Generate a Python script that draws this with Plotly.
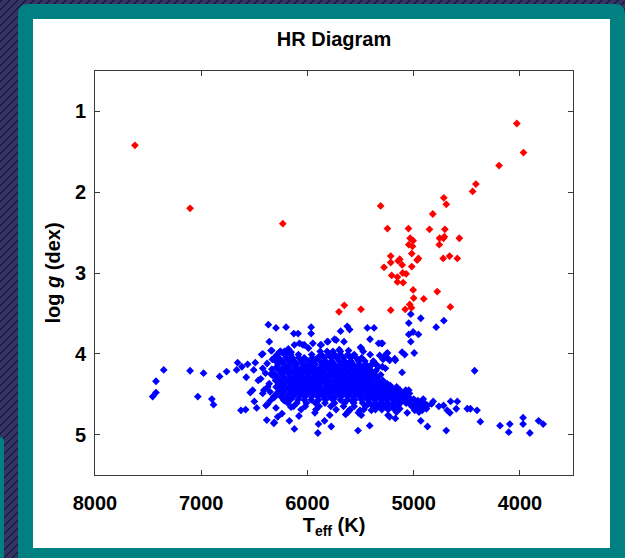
import plotly.graph_objects as go

# ---------------- data ----------------
red_teff = [7624, 7105, 6232, 5311, 5247, 5216, 5216, 5279, 5207, 5703, 5653, 5496, 5216,
            4029, 3966, 4196, 4414, 4445, 4716, 4693, 4820, 5049, 4851, 4706, 5033, 5005,
            5046, 5011, 4756, 4719, 4712, 4759, 4570, 5018, 5146, 5131, 5108, 4955, 4967,
            5018, 4722, 4662, 4589, 5103, 5071, 5153, 5153, 5099, 5005, 5000, 4778, 4905,
            5037, 5021, 5080, 4655]
red_logg = [1.42, 2.20, 2.39, 2.17, 2.45, 2.79, 2.87, 2.93, 3.03, 3.48, 3.40, 3.45, 3.46,
            1.15, 1.51, 1.67, 1.90, 1.99, 2.07, 2.15, 2.27, 2.45, 2.46, 2.46, 2.57, 2.60,
            2.65, 2.67, 2.57, 2.57, 2.55, 2.65, 2.57, 2.76, 2.85, 2.83, 2.90, 2.82, 2.84,
            2.92, 2.82, 2.79, 2.82, 3.00, 3.01, 3.05, 3.11, 3.12, 3.21, 3.31, 3.23, 3.32,
            3.39, 3.43, 3.45, 3.42]

# sparse (individually readable) dwarf stars
blue_teff = [5027, 4933, 4716, 4788, 5046, 5046, 5005, 4955, 5027, 5295, 5109, 5084, 4995,
             5247, 5266, 5288, 5226, 5172, 5295, 5109, 4426, 5131, 5046, 5052, 4816, 4832,
             4763, 4719, 4652, 4589, 4684, 4659, 4599, 4495, 4466, 4404, 4372, 4933, 4870,
             4693, 4187, 4095, 4105, 3970, 3970, 3906, 3824, 3781, 5226, 5172, 5061, 5131,
             5077, 5000, 4960, 4920, 4890, 4980, 4940, 4900, 4960, 4920, 4880, 5010, 4990,
             5040, 5020, 4870, 4950, 4910,
             7353, 7426, 7426, 7457, 7105, 6978, 7032, 6827, 6761, 6900, 6884, 6657, 6667,
             6617, 6576, 6563, 6506, 6491, 6463, 6516, 6538, 6500, 6582, 6626, 6478, 6421,
             6431, 6368, 6296, 6201, 6128, 6088, 5965, 5965, 6359, 6336, 6312, 6343, 6352,
             6317, 6296, 6390, 6383, 6317, 6280, 6170, 6123, 6217, 6154, 5896, 5839, 5776,
             5902, 5524, 5414, 5871, 5807, 5729, 5625, 5603, 5688, 5436, 5373, 5411, 5330,
             5304, 5493, 5367, 5330, 5462, 5257, 5500, 5581, 5505, 5603, 5398, 5323, 5222,
             6075, 6028, 6248, 6154,
             6264, 6217, 6123, 6043, 5949, 5877, 5814, 5745, 5656, 5500, 5613, 6343, 6421,
             5320, 5241, 5178, 5398, 5351, 5266, 6327, 6374, 6421, 6374, 6312, 6312, 5619,
             5493, 5241, 5162, 5335, 5304,
             6440, 6395, 6360, 6410, 6335, 6380, 6350, 5380, 5355, 5345, 5310, 5290, 5365,
             6240, 6080, 5930, 5790, 5640, 5520, 6330, 6180, 5990, 5700]
blue_logg = [3.51, 3.56, 3.59, 3.67, 3.62, 3.76, 3.73, 3.76, 3.85, 3.87, 3.98, 4.01, 3.99,
             3.99, 4.02, 4.07, 4.08, 4.08, 4.16, 4.23, 4.21, 4.45, 4.45, 4.53, 4.59, 4.62,
             4.65, 4.64, 4.59, 4.59, 4.70, 4.73, 4.68, 4.68, 4.68, 4.70, 4.84, 4.83, 4.90,
             4.95, 4.89, 4.87, 4.97, 4.79, 4.87, 4.98, 4.83, 4.87, 4.78, 4.80, 4.73, 4.68,
             4.60, 4.56, 4.58, 4.60, 4.62, 4.62, 4.64, 4.66, 4.68, 4.70, 4.68, 4.66, 4.70,
             4.62, 4.58, 4.64, 4.72, 4.56,
             4.20, 4.34, 4.48, 4.53, 4.21, 4.24, 4.53, 4.28, 4.22, 4.56, 4.63, 4.11, 4.20,
             4.16, 4.29, 4.13, 4.20, 4.11, 4.33, 4.45, 4.48, 4.59, 4.69, 4.70, 4.67, 4.18,
             4.01, 3.64, 3.68, 3.67, 3.75, 3.75, 3.67, 3.75, 3.85, 3.96, 4.05, 4.25, 4.47,
             4.53, 4.67, 4.64, 4.82, 4.86, 4.78, 4.83, 4.93, 4.58, 4.66, 4.87, 4.83, 4.90,
             4.98, 4.95, 4.89, 3.89, 3.85, 3.83, 3.66, 3.70, 3.72, 3.68, 3.68, 3.82, 3.87,
             3.87, 3.93, 4.11, 4.16, 4.22, 4.00, 4.39, 4.58, 4.70, 4.70, 4.70, 4.36, 4.39,
             3.87, 3.89, 3.98, 3.98,
             3.98, 3.97, 3.89, 3.89, 3.87, 3.89, 3.85, 3.82, 3.85, 3.92, 3.96, 3.96, 4.00,
             4.02, 4.06, 4.06, 4.14, 4.14, 4.18, 4.27, 4.41, 4.49, 4.62, 4.54, 4.85, 4.72,
             4.76, 4.76, 4.72, 4.34, 4.43,
             4.31, 4.24, 4.37, 4.45, 4.19, 4.12, 4.58, 4.09, 4.21, 4.29, 4.26, 4.33, 4.47,
             4.74, 4.77, 4.73, 4.76, 4.75, 4.73, 4.07, 3.94, 3.93, 3.95]

# the crowded main-sequence clump, estimated row by row (log g -> Teff values)
dense_logg = [3.97, 4.01, 4.05, 4.09, 4.13, 4.17, 4.21, 4.25, 4.29, 4.33, 4.37, 4.41,
              4.45, 4.49, 4.53, 4.57, 4.61, 4.65, 4.69]
dense_teff = [
    [6255, 6190, 5880, 5815, 5760, 5690, 5475],
    [6285, 6215, 6160, 6085, 5960, 5870, 5800, 5745, 5690, 5620, 5560, 5410],
    [6270, 6200, 6140, 6080, 6030, 5955, 5905, 5840, 5775, 5725, 5660, 5595, 5540, 5490],
    [6300, 6240, 6175, 6125, 6060, 5995, 5940, 5880, 5830, 5770, 5700, 5650, 5590, 5520, 5460],
    [6275, 6215, 6150, 6100, 6035, 5975, 5925, 5855, 5800, 5745, 5685, 5620, 5570, 5510, 5450, 5395],
    [6295, 6230, 6185, 6110, 6055, 6000, 5945, 5880, 5825, 5770, 5710, 5655, 5600, 5535, 5480, 5425],
    [6265, 6205, 6150, 6085, 6030, 5970, 5915, 5860, 5795, 5740, 5690, 5625, 5570, 5515, 5455, 5400],
    [6310, 6240, 6175, 6120, 6065, 6005, 5945, 5890, 5835, 5775, 5715, 5660, 5600, 5545, 5490, 5430, 5375],
    [6280, 6220, 6160, 6100, 6045, 5985, 5930, 5865, 5810, 5750, 5700, 5640, 5585, 5520, 5470, 5410],
    [6300, 6245, 6185, 6130, 6070, 6015, 5955, 5900, 5840, 5790, 5730, 5670, 5615, 5555, 5500, 5440, 5385, 5330],
    [6270, 6215, 6155, 6095, 6040, 5985, 5925, 5875, 5815, 5760, 5700, 5645, 5585, 5530, 5475, 5420, 5360, 5300, 5250],
    [6295, 6235, 6175, 6125, 6065, 6005, 5950, 5895, 5835, 5780, 5725, 5665, 5610, 5555, 5495, 5440, 5385, 5330, 5270, 5215, 5160],
    [6265, 6210, 6150, 6090, 6035, 5980, 5920, 5865, 5805, 5750, 5695, 5640, 5580, 5525, 5470, 5410, 5355, 5300, 5245, 5185, 5130, 5075],
    [6290, 6230, 6170, 6115, 6060, 6000, 5945, 5885, 5830, 5775, 5715, 5660, 5605, 5545, 5490, 5435, 5380, 5320, 5265, 5210, 5150, 5095, 5040],
    [6250, 6190, 6135, 6075, 6020, 5960, 5905, 5850, 5790, 5735, 5680, 5620, 5565, 5510, 5450, 5395, 5340, 5285, 5225, 5170, 5115, 5060],
    [6225, 6160, 6090, 6030, 5965, 5895, 5830, 5760, 5690, 5625, 5555, 5490, 5430, 5370, 5310, 5255, 5195, 5140, 5085, 5025],
    [6185, 6100, 6010, 5925, 5835, 5745, 5650, 5565, 5480, 5415, 5355, 5295, 5240, 5180, 5125, 5070],
    [6130, 6020, 5890, 5780, 5660, 5560, 5450, 5385, 5325, 5265, 5205, 5150],
    [6060, 5920, 5730, 5600, 5470, 5360, 5300, 5240, 5180],
]

x_ticks = [8000, 7000, 6000, 5000, 4000]
y_ticks = [1, 2, 3, 4, 5]

# ---------------- build figure ----------------
all_blue_teff = list(blue_teff)
all_blue_logg = list(blue_logg)
for g, row in zip(dense_logg, dense_teff):
    all_blue_teff += row
    all_blue_logg += [g] * len(row)

W, H = 625, 558
ML, MR, MT, MB = 95, 52, 71, 83
PW, PH = W - ML - MR, H - MT - MB


def px(X, Y):
    return (X - ML) / PW, 1 - (Y - MT) / PH


def pt(X, Y):
    a, b = px(X, Y)
    return f"{a:.5f},{b:.5f}"


def rounded_rect(x0, y0, x1, y1, r):
    return (f"M {pt(x0 + r, y0)} L {pt(x1 - r, y0)} Q {pt(x1, y0)} {pt(x1, y0 + r)} "
            f"L {pt(x1, y1 - r)} Q {pt(x1, y1)} {pt(x1 - r, y1)} "
            f"L {pt(x0 + r, y1)} Q {pt(x0, y1)} {pt(x0, y1 - r)} "
            f"L {pt(x0, y0 + r)} Q {pt(x0, y0)} {pt(x0 + r, y0)} Z")


# diagonal hatch of the dark background
segs = []
x0 = -600
while x0 < 640:
    segs.append(f"M {pt(x0, 570)} L {pt(x0 + 580, -10)}")
    x0 += 8
hatch_path = " ".join(segs)

shapes = [
    dict(type="path", xref="paper", yref="paper", path=hatch_path,
         line=dict(color="#0a0a1e", width=1), layer="below"),
    dict(type="path", xref="paper", yref="paper", path=rounded_rect(-20, 437, 4, 580, 5),
         fillcolor="#008080", line=dict(width=0), layer="below"),
    dict(type="path", xref="paper", yref="paper", path=rounded_rect(18, 4, 625, 580, 10),
         fillcolor="#008080", line=dict(width=0), layer="below"),
    dict(type="rect", xref="paper", yref="paper",
         x0=px(33, 19)[0], y0=px(33, 19)[1], x1=px(610, 548)[0], y1=px(610, 548)[1],
         fillcolor="#FFFFFF", line=dict(width=0), layer="below"),
]

fig = go.Figure()
fig.add_trace(go.Scatter(x=all_blue_teff, y=all_blue_logg, mode="markers",
                         marker=dict(symbol="diamond", size=6, color="#0000FF",
                                     line=dict(width=0)),
                         showlegend=False, hoverinfo="x+y"))
fig.add_trace(go.Scatter(x=red_teff, y=red_logg, mode="markers",
                         marker=dict(symbol="diamond", size=6, color="#FF0000",
                                     line=dict(width=0)),
                         showlegend=False, hoverinfo="x+y"))

font_family = "Liberation Sans, Arial, Helvetica, sans-serif"
axis_common = dict(showline=True, linecolor="#3a3a3a", linewidth=1, mirror="ticks",
                   ticks="inside", ticklen=5, tickcolor="#3a3a3a", tickwidth=1,
                   showgrid=False, zeroline=False,
                   tickfont=dict(family=font_family, size=20, color="#000000", weight="bold"))

fig.update_layout(
    width=W, height=H,
    margin=dict(l=ML, r=MR, t=MT, b=MB, pad=0),
    paper_bgcolor="#333366",
    plot_bgcolor="#FFFFFF",
    shapes=shapes,
    title=dict(text="HR Diagram", x=0.5, xref="paper", xanchor="center",
               y=1 - 39 / H, yref="container", yanchor="middle",
               font=dict(family=font_family, size=20, color="#000000", weight="bold")),
    xaxis=dict(range=[8000, 3500], tickvals=x_ticks, ticktext=[str(v) for v in x_ticks],
               ticklabelstandoff=10,
               title=dict(text="T<sub>eff</sub> (K)", standoff=4,
                          font=dict(family=font_family, size=20, color="#000000", weight="bold")),
               **axis_common),
    yaxis=dict(range=[5.5, 0.5], tickvals=y_ticks, ticktext=[str(v) for v in y_ticks],
               ticklabelstandoff=4,
               title=dict(text="log <i>g</i> (dex)", standoff=8,
                          font=dict(family=font_family, size=20, color="#000000", weight="bold")),
               **axis_common),
)

fig.write_html("out.html")
